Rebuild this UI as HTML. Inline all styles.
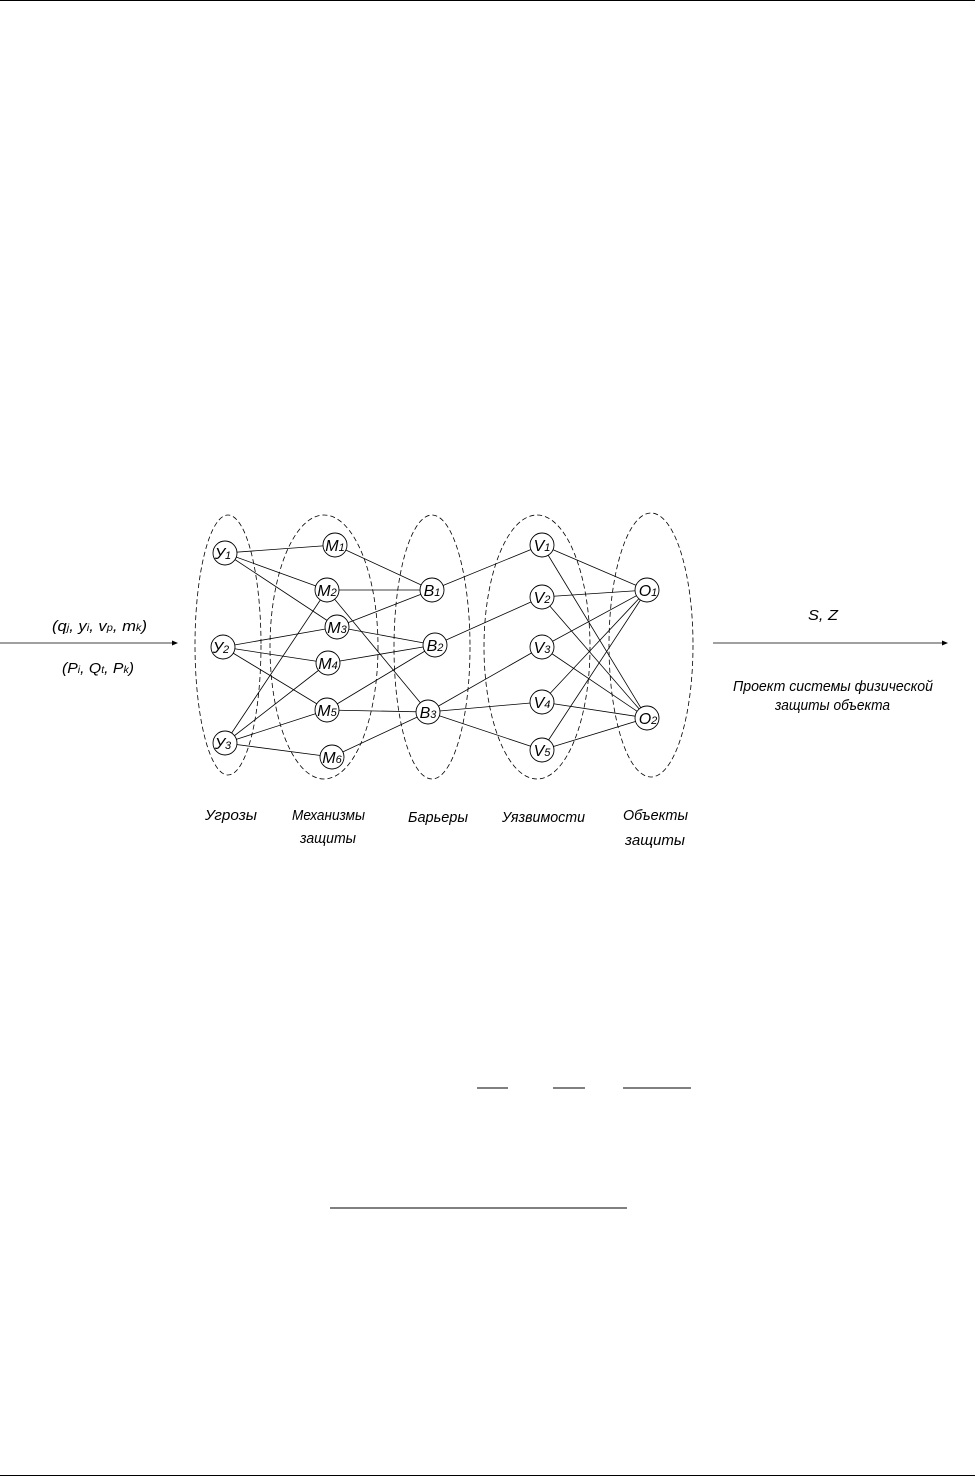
<!DOCTYPE html>
<html><head><meta charset="utf-8"><style>
html,body{margin:0;padding:0;background:#fff}
svg{display:block}
text{font-family:"Liberation Sans",sans-serif;font-style:italic;fill:#000}
</style></head><body>
<svg width="975" height="1477" viewBox="0 0 975 1477" xmlns="http://www.w3.org/2000/svg">
<line x1="0" y1="0.5" x2="975" y2="0.5" stroke="#000" stroke-width="1"/>
<line x1="0" y1="1475.5" x2="975" y2="1475.5" stroke="#000" stroke-width="1"/>
<g stroke="#000" stroke-width="1">
<line x1="477" y1="1088" x2="508" y2="1088"/>
<line x1="553" y1="1088" x2="585" y2="1088"/>
<line x1="623" y1="1088" x2="691" y2="1088"/>
<line x1="330" y1="1208" x2="627" y2="1208"/>
</g>
<g fill="none" stroke="#000" stroke-width="0.8" stroke-dasharray="5,3">
<ellipse cx="228" cy="645" rx="33" ry="130"/>
<ellipse cx="324" cy="647" rx="54" ry="132"/>
<ellipse cx="432" cy="647" rx="38" ry="132"/>
<ellipse cx="537" cy="647" rx="53" ry="132"/>
<ellipse cx="651" cy="645" rx="42" ry="132"/>
</g>
<g stroke="#000" stroke-width="0.8">
<line x1="225" y1="553" x2="335" y2="545"/>
<line x1="225" y1="553" x2="327" y2="590"/>
<line x1="225" y1="553" x2="337" y2="627"/>
<line x1="223" y1="647" x2="337" y2="627"/>
<line x1="223" y1="647" x2="328" y2="663"/>
<line x1="223" y1="647" x2="327" y2="710"/>
<line x1="225" y1="743" x2="327" y2="590"/>
<line x1="225" y1="743" x2="328" y2="663"/>
<line x1="225" y1="743" x2="327" y2="710"/>
<line x1="225" y1="743" x2="332" y2="757"/>
<line x1="335" y1="545" x2="432" y2="590"/>
<line x1="327" y1="590" x2="432" y2="590"/>
<line x1="337" y1="627" x2="432" y2="590"/>
<line x1="337" y1="627" x2="435" y2="645"/>
<line x1="328" y1="663" x2="435" y2="645"/>
<line x1="327" y1="710" x2="435" y2="645"/>
<line x1="327" y1="710" x2="428" y2="712"/>
<line x1="332" y1="757" x2="428" y2="712"/>
<line x1="327" y1="590" x2="428" y2="712"/>
<line x1="432" y1="590" x2="542" y2="545"/>
<line x1="435" y1="645" x2="542" y2="597"/>
<line x1="428" y1="712" x2="542" y2="647"/>
<line x1="428" y1="712" x2="542" y2="702"/>
<line x1="428" y1="712" x2="542" y2="750"/>
<line x1="542" y1="545" x2="647" y2="590"/>
<line x1="542" y1="545" x2="647" y2="718"/>
<line x1="542" y1="597" x2="647" y2="590"/>
<line x1="542" y1="597" x2="647" y2="718"/>
<line x1="542" y1="647" x2="647" y2="590"/>
<line x1="542" y1="647" x2="647" y2="718"/>
<line x1="542" y1="702" x2="647" y2="590"/>
<line x1="542" y1="702" x2="647" y2="718"/>
<line x1="542" y1="750" x2="647" y2="590"/>
<line x1="542" y1="750" x2="647" y2="718"/>
<line x1="0" y1="643" x2="175" y2="643"/>
<line x1="713" y1="643" x2="945" y2="643"/>
</g>
<polygon points="178,643 172,640.5 172,645.5" fill="#000"/>
<polygon points="948,643 942,640.5 942,645.5" fill="#000"/>
<g fill="#fff" stroke="#000" stroke-width="0.9">
<circle cx="225" cy="553" r="12"/><circle cx="223" cy="647" r="12"/><circle cx="225" cy="743" r="12"/>
<circle cx="335" cy="545" r="12"/><circle cx="327" cy="590" r="12"/><circle cx="337" cy="627" r="12"/>
<circle cx="328" cy="663" r="12"/><circle cx="327" cy="710" r="12"/><circle cx="332" cy="757" r="12"/>
<circle cx="432" cy="590" r="12"/><circle cx="435" cy="645" r="12"/><circle cx="428" cy="712" r="12"/>
<circle cx="542" cy="545" r="12"/><circle cx="542" cy="597" r="12"/><circle cx="542" cy="647" r="12"/>
<circle cx="542" cy="702" r="12"/><circle cx="542" cy="750" r="12"/>
<circle cx="647" cy="590" r="12"/><circle cx="647" cy="718" r="12"/>
</g>
<g font-size="16" text-anchor="middle">
<text x="223" y="559">У<tspan font-size="11">1</tspan></text>
<text x="221" y="653">У<tspan font-size="11">2</tspan></text>
<text x="223" y="749">У<tspan font-size="11">3</tspan></text>
<text x="335" y="551">M<tspan font-size="11">1</tspan></text>
<text x="327" y="596">M<tspan font-size="11">2</tspan></text>
<text x="337" y="633">M<tspan font-size="11">3</tspan></text>
<text x="328" y="669">M<tspan font-size="11">4</tspan></text>
<text x="327" y="716">M<tspan font-size="11">5</tspan></text>
<text x="332" y="763">M<tspan font-size="11">6</tspan></text>
<text x="432" y="596">B<tspan font-size="11">1</tspan></text>
<text x="435" y="651">B<tspan font-size="11">2</tspan></text>
<text x="428" y="718">B<tspan font-size="11">3</tspan></text>
<text x="542" y="551">V<tspan font-size="11">1</tspan></text>
<text x="542" y="603">V<tspan font-size="11">2</tspan></text>
<text x="542" y="653">V<tspan font-size="11">3</tspan></text>
<text x="542" y="708">V<tspan font-size="11">4</tspan></text>
<text x="542" y="756">V<tspan font-size="11">5</tspan></text>
<text x="648" y="596">O<tspan font-size="11">1</tspan></text>
<text x="648" y="724">O<tspan font-size="11">2</tspan></text>
</g>
<g font-size="15">
<text x="52" y="631" textLength="95" lengthAdjust="spacingAndGlyphs">(q<tspan font-size="10">j</tspan>, y<tspan font-size="10">i</tspan>, v<tspan font-size="10">p</tspan>, m<tspan font-size="10">k</tspan>)</text>
<text x="62" y="673" textLength="72" lengthAdjust="spacingAndGlyphs">(P<tspan font-size="10">i</tspan>, Q<tspan font-size="10">t</tspan>, P<tspan font-size="10">k</tspan>)</text>
<text x="808" y="620" textLength="30" lengthAdjust="spacingAndGlyphs">S, Z</text>
<text x="733" y="691" textLength="200" lengthAdjust="spacingAndGlyphs">Проект системы физической</text>
<text x="775" y="710" textLength="115" lengthAdjust="spacingAndGlyphs">защиты объекта</text>
<text x="205" y="820" textLength="52" lengthAdjust="spacingAndGlyphs">Угрозы</text>
<text x="292" y="820" textLength="73" lengthAdjust="spacingAndGlyphs">Механизмы</text>
<text x="300" y="843" textLength="56" lengthAdjust="spacingAndGlyphs">защиты</text>
<text x="408" y="822" textLength="60" lengthAdjust="spacingAndGlyphs">Барьеры</text>
<text x="502" y="822" textLength="83" lengthAdjust="spacingAndGlyphs">Уязвимости</text>
<text x="623" y="820" textLength="65" lengthAdjust="spacingAndGlyphs">Объекты</text>
<text x="625" y="845" textLength="60" lengthAdjust="spacingAndGlyphs">защиты</text>
</g>
</svg>
</body></html>
